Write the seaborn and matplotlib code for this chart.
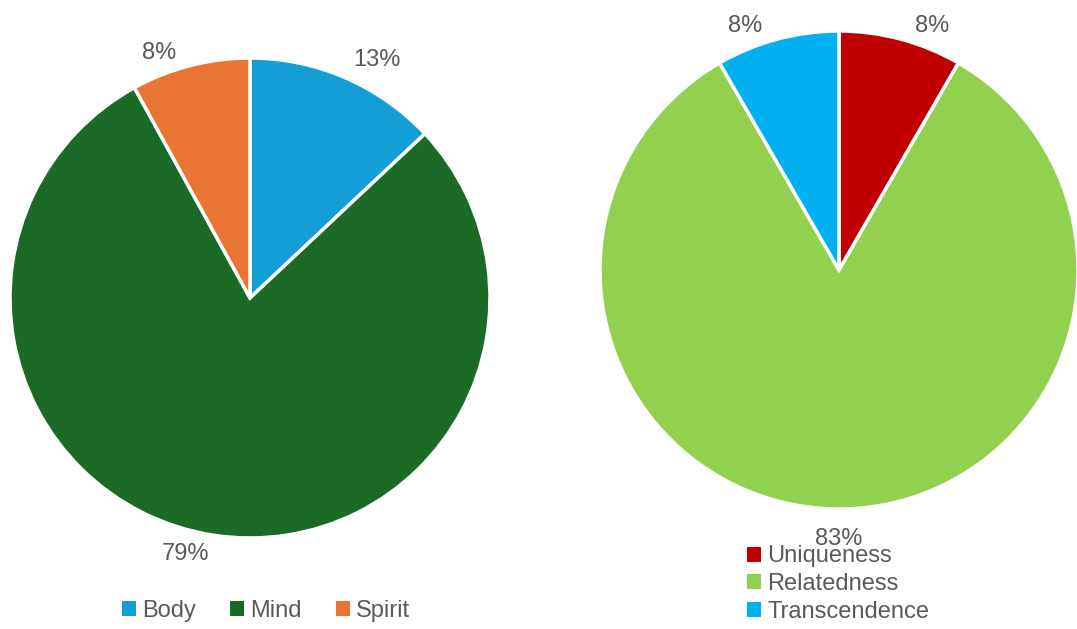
import matplotlib
matplotlib.use("Agg")
import numpy as np
import matplotlib.pyplot as plt
import seaborn as sns
from matplotlib.patches import Patch

# data
left_labels = ["Body", "Mind", "Spirit"]
left_values = [13, 79, 8]
left_colors = ["#139ED6", "#1B6A26", "#E87534"]

right_labels = ["Uniqueness", "Relatedness", "Transcendence"]
right_values = [8.33, 83.33, 8.33]
right_colors = ["#C00000", "#92D050", "#00B0F0"]

sns.set_theme(style="white")
plt.rcParams["font.family"] = ["Liberation Sans", "DejaVu Sans"]
text_color = "#595959"
fs = 17

fig = plt.figure(figsize=(10.77, 6.29), dpi=100)
W, H = 1077, 629

def add_pie(cx, cy, r, values, colors):
    ax = fig.add_axes([(cx - r) / W, (H - cy - r) / H, 2 * r / W, 2 * r / H])
    wedges, _, pcts = ax.pie(values, colors=colors, startangle=90, counterclock=False,
                             autopct="%.0f%%",
                             wedgeprops=dict(edgecolor="white", linewidth=2.5),
                             textprops=dict(color=text_color, fontsize=fs))
    # put each percentage just outside its slice, aligned away from the pie
    d = 1.08
    for w, t in zip(wedges, pcts):
        ang = np.deg2rad((w.theta1 + w.theta2) / 2)
        dx, dy = np.cos(ang), np.sin(ang)
        if abs(dx) < 0.1:
            ha, va = "center", ("bottom" if dy > 0 else "top")
        else:
            ha, va = ("left" if dx > 0 else "right"), "center"
        # small slices get their label pushed a bit further sideways
        push = 0.04 * np.sign(dx) if (w.theta2 - w.theta1) < 40 else 0
        t.set_position((dx * d + push, dy * d - abs(push) * 0.6))
        t.set_ha(ha)
        t.set_va(va)
    ax.set_xlim(-1, 1)
    ax.set_ylim(-1, 1)
    ax.set_aspect("equal")
    return ax

add_pie(250, 298, 240, left_values, left_colors)
add_pie(839, 270, 239, right_values, right_colors)

# left legend, horizontal
h_left = [Patch(facecolor=c, edgecolor="none") for c in left_colors]
fig.legend(h_left, left_labels, loc="center", bbox_to_anchor=(266 / W, 1 - 611 / H),
           ncol=3, frameon=False, fontsize=fs, labelcolor=text_color,
           handlelength=0.6, handleheight=0.6, handletextpad=0.25,
           columnspacing=1.45, borderpad=0)

# right legend, vertical
h_right = [Patch(facecolor=c, edgecolor="none") for c in right_colors]
fig.legend(h_right, right_labels, loc="center left", bbox_to_anchor=(747 / W, 1 - 584 / H),
           ncol=1, frameon=False, fontsize=fs, labelcolor=text_color,
           handlelength=0.6, handleheight=0.6, handletextpad=0.25,
           labelspacing=0.24, borderpad=0, borderaxespad=0)

fig.savefig("out.png", dpi=100, facecolor="white")
